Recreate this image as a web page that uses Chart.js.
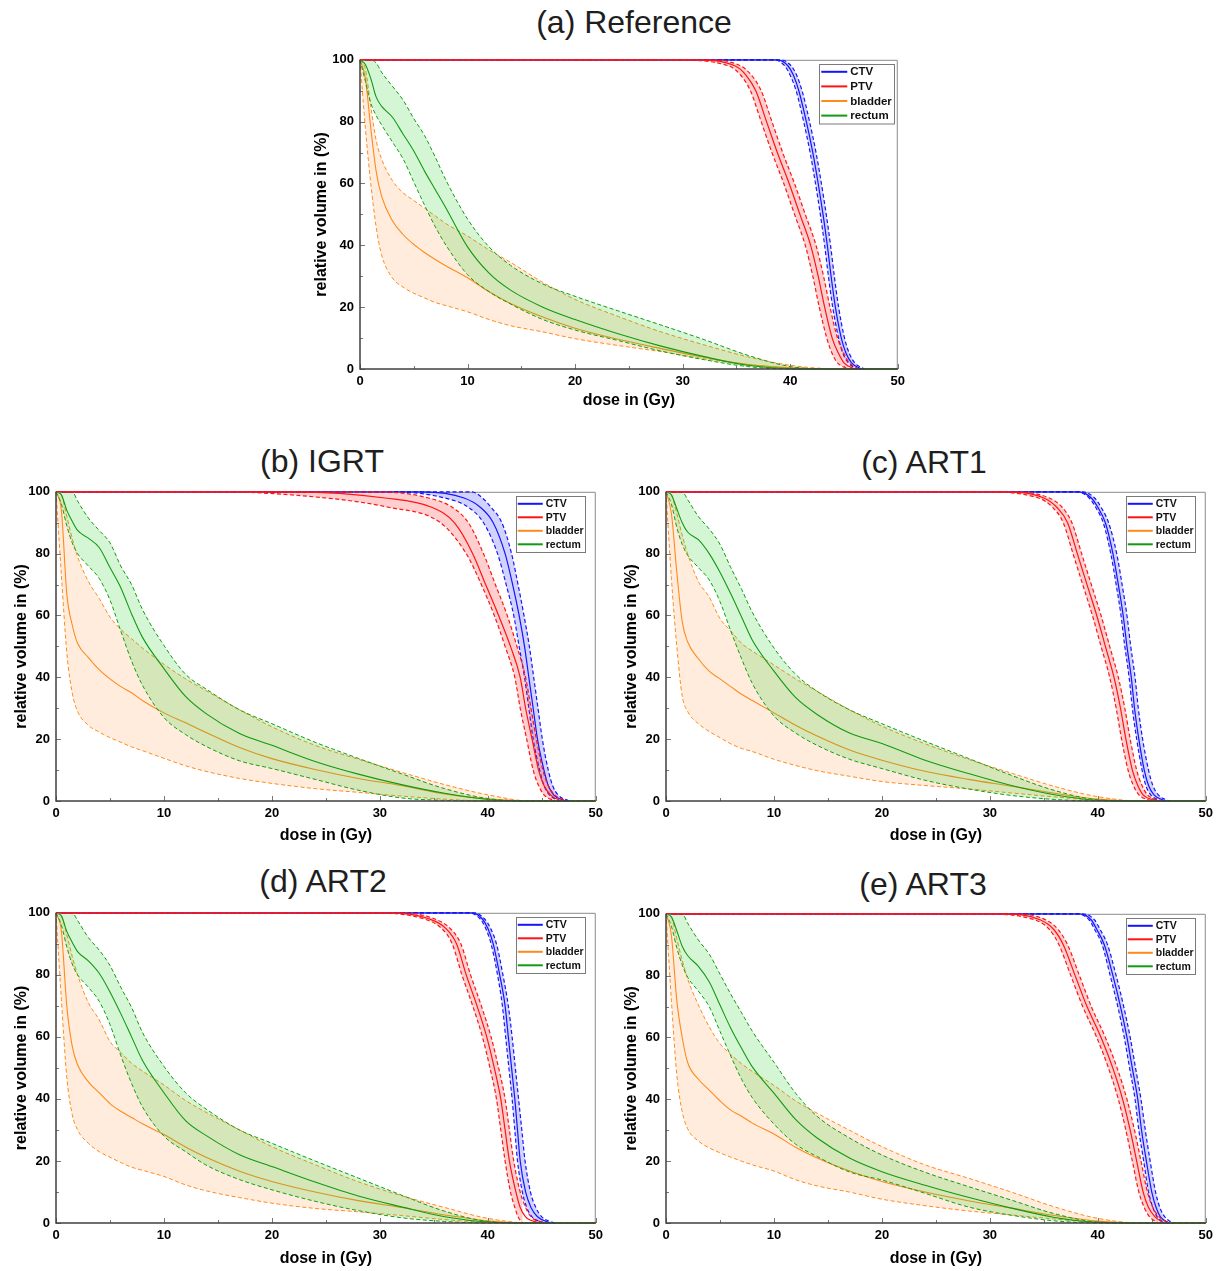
<!DOCTYPE html>
<html>
<head>
<meta charset="utf-8">
<title>DVH comparison</title>
<script src="https://cdn.jsdelivr.net/npm/chart.js@4.4.1/dist/chart.umd.min.js"></script>
<style>
  body { margin: 0; background: #fff; }
  #page { position: relative; width: 1216px; height: 1271px; overflow: hidden; background: #fff; }
  .ttl { position: absolute; width: 400px; text-align: center; font: 32px "Liberation Sans", Arial, sans-serif; line-height: 32px; color: #1e1e1e; white-space: nowrap; }
  canvas { position: absolute; }
</style>
</head>
<body>
<div id="page"></div>
<script>
// shared grids
const oarDose = [0, 0.5, 1, 1.5, 2, 3, 4, 5, 6, 7, 8, 10, 12, 14, 17, 20, 24, 28, 32, 36, 40, 44, 50];
const targetVol = [100, 100, 98, 95, 90, 80, 70, 60, 50, 40, 30, 20, 10, 5, 2, 0];
const doseTicks = [0, 10, 20, 30, 40, 50];
const volumeTicks = [0, 20, 40, 60, 80, 100];
const legendLabels = ['CTV', 'PTV', 'bladder', 'rectum'];
const panelTitles = ['(a) Reference', '(b) IGRT', '(c) ART1', '(d) ART2', '(e) ART3'];

// (a) Reference - targets: dose (Gy) at each targetVol level
const refCtvLow  = [0, 38.5, 39.5, 40.0, 40.55, 41.25, 41.85, 42.35, 42.8, 43.2, 43.55, 43.95, 44.5, 44.9, 45.4, 46.2];
const refCtvMean = [0, 38.8, 39.8, 40.3, 40.8, 41.5, 42.1, 42.6, 43.05, 43.45, 43.8, 44.2, 44.75, 45.2, 45.7, 46.6];
const refCtvHigh = [0, 39.1, 40.1, 40.6, 41.1, 41.8, 42.4, 42.9, 43.35, 43.75, 44.1, 44.5, 45.05, 45.5, 46.0, 46.9];
const refPtvLow  = [0, 29, 34.3, 35.4, 36.3, 37.3, 38.3, 39.4, 40.4, 41.4, 42.1, 42.7, 43.4, 43.9, 44.4, 45.4];
const refPtvMean = [0, 31, 34.9, 35.9, 36.8, 37.8, 38.8, 39.9, 40.9, 41.9, 42.6, 43.2, 43.9, 44.5, 45.0, 46.0];
const refPtvHigh = [0, 32, 35.4, 36.4, 37.3, 38.3, 39.3, 40.4, 41.4, 42.4, 43.1, 43.7, 44.4, 45.0, 45.5, 46.4];
// (a) Reference - organs at risk: volume (%) at each oarDose
const refBladderLow  = [100, 78, 60, 46, 37, 29.5, 26.5, 24.5, 23, 21.5, 20.5, 18.5, 16, 14, 12, 9.8, 7.6, 5.6, 3.3, 1.4, 0.4, 0, 0];
const refBladderMean = [100, 94, 78, 64, 56, 48, 43.5, 40.3, 37.7, 35.4, 33.3, 29.5, 25, 21.2, 16.8, 13.2, 9.6, 6.6, 3.8, 1.5, 0.4, 0, 0];
const refBladderHigh = [100, 97, 85, 74, 68, 61, 57, 54.5, 52, 49.5, 47, 43, 38.5, 34.5, 28, 22.5, 17, 12, 7.8, 4, 1.2, 0.1, 0];
const refRectumLow  = [100, 93, 86, 82, 79, 73.5, 68, 60.5, 53, 46, 40, 30.5, 25, 21, 16, 12.6, 9.2, 5.8, 3, 0.8, 0, 0, 0];
const refRectumMean = [100, 98.5, 94, 88, 85, 81.5, 76, 70.5, 64, 58, 52, 39.5, 31, 25.5, 20, 16, 11.4, 7.4, 4, 1.2, 0.1, 0, 0];
const refRectumHigh = [100, 100, 100, 99, 96, 91.5, 87, 81, 75.5, 68.5, 61, 48.5, 39.5, 33.5, 27.5, 23.5, 18.8, 14.2, 9.5, 4.5, 0.8, 0, 0];

// (b) IGRT
const igrtCtvLow  = [0, 31, 36.0, 38.2, 39.6, 40.9, 41.7, 42.4, 42.9, 43.4, 43.8, 44.2, 44.8, 45.2, 45.7, 46.6];
const igrtCtvMean = [0, 34, 37.8, 39.3, 40.5, 41.6, 42.3, 42.9, 43.4, 43.8, 44.2, 44.6, 45.2, 45.6, 46.1, 47.2];
const igrtCtvHigh = [0, 38.5, 39.5, 40.3, 41.3, 42.2, 42.8, 43.35, 43.85, 44.25, 44.65, 45.05, 45.6, 46.0, 46.5, 47.5];
const igrtPtvLow  = [0, 15, 25, 30.8, 35.6, 38.0, 39.4, 40.6, 41.6, 42.5, 43.0, 43.6, 44.2, 44.7, 45.2, 46.2];
const igrtPtvMean = [0, 22, 30.5, 34.8, 36.9, 38.6, 39.8, 41.0, 42.1, 43.0, 43.5, 44.1, 44.7, 45.2, 45.8, 46.8];
const igrtPtvHigh = [0, 30, 34.5, 36.7, 38.2, 39.6, 40.7, 41.8, 42.7, 43.5, 44.0, 44.5, 45.1, 45.6, 46.2, 47.3];
const igrtBladderLow  = [100, 73, 48, 35, 29, 24.5, 22.3, 20.5, 19, 17.5, 16.3, 13.8, 11.4, 9.5, 7.3, 5.7, 4, 2.8, 1.6, 0.6, 0, 0, 0];
const igrtBladderMean = [100, 94, 67, 57, 51, 46.4, 42.5, 39.5, 37, 35, 32.5, 28.5, 25.3, 22, 17.3, 13.7, 10.2, 7.3, 5, 2.3, 0.7, 0, 0];
const igrtBladderHigh = [100, 99, 92, 85, 79, 71, 65.5, 59.5, 55.5, 52.5, 49.5, 44.2, 39.5, 35.5, 29.5, 24, 18, 13.5, 9.3, 5.3, 2, 0, 0];
const igrtRectumLow  = [100, 96, 89, 83.5, 80, 76, 72, 65, 55, 45.3, 37.5, 27, 21.5, 17.5, 13, 10.5, 7, 3.5, 1, 0.2, 0, 0, 0];
const igrtRectumMean = [100, 99, 94, 90.5, 87.5, 85, 82, 75.5, 69, 60.5, 53, 42.8, 33.8, 28, 21.8, 18, 12.8, 8.7, 5.3, 2.5, 0.5, 0, 0];
const igrtRectumHigh = [100, 100, 100, 100, 97, 91.5, 87.5, 83.5, 76, 70, 62, 50.3, 41, 36, 29.5, 25, 19, 13.8, 8.8, 4, 0.8, 0, 0];

// (c) ART1
const art1CtvLow  = [0, 38.0, 39.2, 39.8, 40.5, 41.2, 41.7, 42.15, 42.5, 42.9, 43.2, 43.6, 44.1, 44.45, 44.9, 45.9];
const art1CtvMean = [0, 38.3, 39.4, 40.0, 40.7, 41.4, 41.9, 42.35, 42.7, 43.1, 43.4, 43.8, 44.3, 44.7, 45.2, 46.3];
const art1CtvHigh = [0, 38.6, 39.7, 40.3, 41.0, 41.75, 42.25, 42.7, 43.05, 43.45, 43.75, 44.15, 44.7, 45.1, 45.6, 46.6];
const art1PtvLow  = [0, 29, 34.5, 35.8, 36.8, 37.7, 38.6, 39.5, 40.3, 41.1, 41.7, 42.2, 42.8, 43.3, 43.8, 45.0];
const art1PtvMean = [0, 31, 35.0, 36.2, 37.2, 38.1, 39.0, 39.9, 40.7, 41.5, 42.1, 42.6, 43.2, 43.7, 44.2, 45.6];
const art1PtvHigh = [0, 32, 35.5, 36.7, 37.6, 38.5, 39.4, 40.3, 41.1, 41.9, 42.5, 43.0, 43.6, 44.1, 44.6, 46.0];
const art1BladderLow  = [100, 72, 50, 34, 29, 25, 22.5, 20.5, 18.5, 17, 16, 13.5, 11.5, 9.8, 8, 6.3, 5, 3.9, 2.6, 1.3, 0.2, 0, 0];
const art1BladderMean = [100, 93, 74, 58, 51.5, 46, 42, 39.5, 37, 34.5, 32.5, 28.5, 24.5, 21, 16.5, 13.2, 9.6, 7, 4.8, 2.5, 0.6, 0, 0];
const art1BladderHigh = [100, 99, 93, 86, 80, 71, 66, 59, 55, 51, 48.5, 44, 39.5, 35.5, 29.5, 24.2, 18.5, 13.5, 9, 4.7, 1.4, 0, 0];
const art1RectumLow  = [100, 96, 88.5, 83, 79.5, 75.5, 71.5, 64.5, 55, 46, 38, 27.5, 22, 18, 13.5, 10.5, 6.7, 3.9, 1.8, 0.5, 0, 0, 0];
const art1RectumMean = [100, 99, 94.5, 90, 87, 84.5, 80, 74, 67, 59.5, 52, 42, 33.5, 28, 22, 18.6, 13.2, 8.9, 5, 2, 0.2, 0, 0];
const art1RectumHigh = [100, 100, 100, 100, 97.5, 92, 88, 83, 75.5, 68.5, 61, 49.5, 41, 35.5, 29.5, 25, 19.3, 13.8, 8.3, 3.4, 0.4, 0, 0];

// (d) ART2
const art2CtvLow  = [0, 38.2, 39.3, 39.8, 40.3, 40.9, 41.35, 41.65, 41.95, 42.25, 42.5, 42.75, 43.2, 43.6, 44.1, 45.2];
const art2CtvMean = [0, 38.5, 39.5, 40.0, 40.5, 41.1, 41.6, 41.9, 42.2, 42.5, 42.75, 43.0, 43.5, 44.0, 44.6, 45.8];
const art2CtvHigh = [0, 38.8, 39.7, 40.25, 40.8, 41.4, 41.9, 42.25, 42.55, 42.85, 43.15, 43.45, 43.95, 44.45, 45.0, 46.2];
const art2PtvLow  = [0, 29, 34.1, 35.7, 36.7, 37.6, 38.6, 39.5, 40.2, 40.8, 41.2, 41.6, 42.1, 42.5, 42.8, 43.2];
const art2PtvMean = [0, 31, 34.6, 36.1, 37.1, 38.0, 39.0, 39.9, 40.6, 41.2, 41.6, 42.0, 42.6, 43.0, 43.5, 44.8];
const art2PtvHigh = [0, 32, 35.1, 36.5, 37.5, 38.4, 39.4, 40.3, 41.0, 41.6, 42.0, 42.4, 43.0, 43.5, 44.0, 45.3];
const art2BladderLow  = [100, 72, 47, 35, 30, 25.7, 23, 21.2, 19.5, 18, 17, 15, 12.3, 10.3, 8.2, 6.4, 4.7, 3.6, 2.4, 1.1, 0.2, 0, 0];
const art2BladderMean = [100, 94, 70, 57, 51, 45.5, 42, 38.5, 36, 34, 32, 28.5, 24.5, 21, 16.7, 13.4, 10, 7.2, 5, 2.6, 0.7, 0, 0];
const art2BladderHigh = [100, 99, 93, 86, 80, 71, 65.5, 58.5, 55, 51.5, 49, 44.5, 39.5, 35.5, 30, 24.6, 18.8, 13.3, 8.8, 5, 1.5, 0, 0];
const art2RectumLow  = [100, 96, 89, 83.5, 80, 76, 71.5, 64, 54, 45, 37.5, 28, 23, 18.5, 14, 10.7, 7, 4, 1.7, 0.5, 0, 0, 0];
const art2RectumMean = [100, 99, 94, 90.5, 87.5, 84.5, 80.5, 74.5, 67.5, 60, 52.5, 42, 33, 28, 22, 18.2, 13.2, 8.7, 5.2, 2, 0.3, 0, 0];
const art2RectumHigh = [100, 100, 100, 100, 97.5, 92, 88, 83, 76, 69.5, 61.5, 50.5, 42, 36.5, 30, 25.7, 20, 14.5, 9, 3.8, 0.5, 0, 0];

// (e) ART3
const art3CtvLow  = [0, 38.0, 39.2, 39.7, 40.4, 41.15, 41.85, 42.45, 42.95, 43.45, 43.8, 44.25, 44.7, 45.1, 45.5, 46.2];
const art3CtvMean = [0, 38.3, 39.4, 39.9, 40.6, 41.4, 42.1, 42.7, 43.2, 43.7, 44.05, 44.5, 45.0, 45.4, 45.8, 46.6];
const art3CtvHigh = [0, 38.6, 39.7, 40.2, 40.9, 41.7, 42.4, 43.0, 43.5, 44.0, 44.4, 44.85, 45.35, 45.75, 46.2, 46.9];
const art3PtvLow  = [0, 29, 34.2, 35.5, 36.4, 37.5, 38.6, 39.9, 41.0, 41.9, 42.6, 43.2, 43.8, 44.3, 44.8, 45.6];
const art3PtvMean = [0, 31, 34.7, 35.9, 36.8, 37.9, 39.0, 40.3, 41.4, 42.3, 43.0, 43.6, 44.2, 44.7, 45.3, 46.1];
const art3PtvHigh = [0, 32, 35.2, 36.3, 37.2, 38.3, 39.4, 40.7, 41.8, 42.7, 43.4, 44.0, 44.6, 45.1, 45.7, 46.5];
const art3BladderLow  = [100, 72, 48, 36, 30.5, 26.5, 24.3, 22.7, 21.3, 20, 18.8, 16.8, 14, 12, 10, 7.7, 5.6, 3.9, 2.6, 1.3, 0.2, 0, 0];
const art3BladderMean = [100, 93, 72, 60, 52, 46.5, 43, 39.5, 36.5, 34.5, 32.3, 28.8, 24.5, 21, 16.8, 13.4, 10, 7.2, 4.8, 2.4, 0.6, 0, 0];
const art3BladderHigh = [100, 99, 92, 85, 79, 70.5, 63.5, 58, 54.5, 51.5, 49, 44.5, 39.5, 35.5, 30, 24.7, 18.8, 14.5, 10, 5.2, 1.5, 0, 0];
const art3RectumLow  = [100, 96, 89, 83.5, 79.5, 75, 70, 62, 54, 46.5, 40.5, 32, 25.5, 21.5, 16.5, 13.9, 9.6, 5.2, 2.5, 0.7, 0, 0, 0];
const art3RectumMean = [100, 99, 94.5, 89.5, 86.5, 83, 78, 70.5, 63, 56.5, 50.5, 42, 33.5, 27.5, 21, 16.6, 12.2, 8.3, 4.8, 1.8, 0.2, 0, 0];
const art3RectumHigh = [100, 100, 100, 100, 97, 91.5, 87, 80.5, 74, 68, 62, 52, 42, 34.5, 27.5, 22, 16.4, 11.8, 7.4, 3, 0.3, 0, 0];

const panelData = [
  { ctv: [refCtvLow, refCtvMean, refCtvHigh], ptv: [refPtvLow, refPtvMean, refPtvHigh],
    bladder: [refBladderLow, refBladderMean, refBladderHigh], rectum: [refRectumLow, refRectumMean, refRectumHigh] },
  { ctv: [igrtCtvLow, igrtCtvMean, igrtCtvHigh], ptv: [igrtPtvLow, igrtPtvMean, igrtPtvHigh],
    bladder: [igrtBladderLow, igrtBladderMean, igrtBladderHigh], rectum: [igrtRectumLow, igrtRectumMean, igrtRectumHigh] },
  { ctv: [art1CtvLow, art1CtvMean, art1CtvHigh], ptv: [art1PtvLow, art1PtvMean, art1PtvHigh],
    bladder: [art1BladderLow, art1BladderMean, art1BladderHigh], rectum: [art1RectumLow, art1RectumMean, art1RectumHigh] },
  { ctv: [art2CtvLow, art2CtvMean, art2CtvHigh], ptv: [art2PtvLow, art2PtvMean, art2PtvHigh],
    bladder: [art2BladderLow, art2BladderMean, art2BladderHigh], rectum: [art2RectumLow, art2RectumMean, art2RectumHigh] },
  { ctv: [art3CtvLow, art3CtvMean, art3CtvHigh], ptv: [art3PtvLow, art3PtvMean, art3PtvHigh],
    bladder: [art3BladderLow, art3BladderMean, art3BladderHigh], rectum: [art3RectumLow, art3RectumMean, art3RectumHigh] }
];

// page layout: plot rectangles, title centres, legend boxes
const bigLegend = { w: 75, h: 59.5, gapR: 3.5, gapT: 4.5, line: 26, first: 7.5, row: 14.6, font: 11.5 };
const smallLegend = { w: 69, h: 56, gapR: 11, gapT: 4, line: 25, first: 8, row: 13.5, font: 10.5 };
const boxes = [
  { L: 360, T: 58,  R: 898,  B: 369,  tx: 634, ty: 25,  yGap: 38,   xGap: 32, lg: bigLegend },
  { L: 56,  T: 490, R: 596,  B: 801,  tx: 322, ty: 464, yGap: 34.5, xGap: 35, lg: smallLegend },
  { L: 666, T: 490, R: 1206, B: 801,  tx: 924, ty: 465, yGap: 34.5, xGap: 35, lg: smallLegend },
  { L: 56,  T: 911, R: 596,  B: 1223, tx: 323, ty: 884, yGap: 34.5, xGap: 36, lg: smallLegend },
  { L: 666, T: 912, R: 1206, B: 1223, tx: 923, ty: 887, yGap: 34.5, xGap: 36, lg: smallLegend }
];

const FONT = '"Liberation Sans", Arial, Helvetica, sans-serif';
const colors = { ctv: '#1414ff', ptv: '#ff1414', bladder: '#ff8a1c', rectum: '#129a12' };
const fills = {
  ctv: 'rgba(50, 50, 255, 0.22)',
  ptv: 'rgba(255, 30, 30, 0.22)',
  bladder: 'rgba(255, 150, 60, 0.18)',
  rectum: 'rgba(20, 205, 20, 0.18)'
};

const Y_AXIS_W = 56, X_AXIS_H = 52, PAD_T = 12, PAD_R = 12;
const TITLE_SIZE = 16, TICK_SIZE = 13;

// light top/right border, drawn under the curves
const borderPlugin = {
  id: 'borderUnder',
  beforeDatasetsDraw(chart) {
    const { ctx, chartArea: a } = chart;
    ctx.save();
    ctx.strokeStyle = '#8a8a8a';
    ctx.lineWidth = 1;
    ctx.beginPath();
    ctx.moveTo(a.left, a.top + 0.5);
    ctx.lineTo(a.right - 0.5, a.top + 0.5);
    ctx.lineTo(a.right - 0.5, a.bottom);
    ctx.stroke();
    ctx.restore();
  }
};

// dark left/bottom axes with inward major / minor ticks
const framePlugin = {
  id: 'frame',
  afterDatasetsDraw(chart) {
    const { ctx, chartArea: a, scales: { x, y } } = chart;
    ctx.save();
    ctx.strokeStyle = '#777';
    ctx.lineWidth = 1;
    ctx.beginPath();
    const xt = x.ticks.map(t => t.value);
    xt.forEach((v, i) => {
      const px = Math.round(x.getPixelForValue(v)) + 0.5;
      ctx.moveTo(px, a.bottom); ctx.lineTo(px, a.bottom - 5);
      if (i < xt.length - 1) {
        const m = Math.round(x.getPixelForValue((v + xt[i + 1]) / 2)) + 0.5;
        ctx.moveTo(m, a.bottom); ctx.lineTo(m, a.bottom - 3);
      }
    });
    const yt = y.ticks.map(t => t.value);
    yt.forEach((v, i) => {
      const py = Math.round(y.getPixelForValue(v)) + 0.5;
      ctx.moveTo(a.left, py); ctx.lineTo(a.left + 5, py);
      if (i < yt.length - 1) {
        const m = Math.round(y.getPixelForValue((v + yt[i + 1]) / 2)) + 0.5;
        ctx.moveTo(a.left, m); ctx.lineTo(a.left + 3, m);
      }
    });
    ctx.stroke();

    ctx.strokeStyle = '#404040';
    ctx.lineWidth = 1.5;
    ctx.beginPath();
    ctx.moveTo(a.left, a.top);
    ctx.lineTo(a.left, a.bottom);
    ctx.lineTo(a.right, a.bottom);
    ctx.stroke();
    ctx.restore();
  }
};

// boxed legend in the top right corner of the plot
const legendPlugin = {
  id: 'dvhLegend',
  afterDraw(chart, args, opts) {
    const { ctx, chartArea: a } = chart;
    const lg = opts.box;
    const left = a.right - lg.gapR - lg.w;
    const top = a.top + lg.gapT;
    ctx.save();
    ctx.fillStyle = '#fff';
    ctx.fillRect(left, top, lg.w, lg.h);
    ctx.strokeStyle = '#7a7a7a';
    ctx.lineWidth = 1;
    ctx.strokeRect(Math.round(left) + 0.5, Math.round(top) + 0.5, lg.w, lg.h);
    ctx.font = 'bold ' + lg.font + 'px ' + FONT;
    ctx.textBaseline = 'middle';
    ctx.fillStyle = '#111';
    opts.items.forEach((it, i) => {
      const cy = top + lg.first + i * lg.row;
      ctx.strokeStyle = it.color;
      ctx.lineWidth = 2;
      ctx.beginPath();
      ctx.moveTo(left + 2, cy);
      ctx.lineTo(left + 2 + lg.line, cy);
      ctx.stroke();
      ctx.fillText(it.label, left + 2 + lg.line + 3, cy + 0.5);
    });
    ctx.restore();
  }
};

const pts = (xs, ys) => xs.map((x, i) => ({ x, y: ys[i] }));

function addBand(list, triple, color, fillColor, meanW, dashW, isTarget) {
  const [low, mean, high] = isTarget
    ? triple.map(d => pts(d, targetVol))
    : triple.map(v => pts(oarDose, v));
  const i = list.length;
  list.push({ data: mean, borderColor: color, borderWidth: meanW, fill: false, clip: 2 });
  list.push({ data: high, borderColor: color, borderWidth: dashW, borderDash: [4, 2.5], fill: i + 2, backgroundColor: fillColor, clip: 2 });
  list.push({ data: low, borderColor: color, borderWidth: dashW, borderDash: [4, 2.5], fill: false, clip: 2 });
}

const page = document.getElementById('page');

panelData.forEach((d, k) => {
  const b = boxes[k];

  const t = document.createElement('div');
  t.className = 'ttl';
  t.textContent = panelTitles[k];
  t.style.left = (b.tx - 200) + 'px';
  t.style.top = (b.ty - 19) + 'px';
  page.appendChild(t);

  const cv = document.createElement('canvas');
  const w = b.R - b.L + Y_AXIS_W + PAD_R;
  const h = b.B - b.T + PAD_T + X_AXIS_H;
  cv.width = w; cv.height = h;
  cv.style.left = (b.L - Y_AXIS_W) + 'px';
  cv.style.top = (b.T - PAD_T) + 'px';
  cv.style.width = w + 'px'; cv.style.height = h + 'px';
  page.appendChild(cv);

  // first dataset is painted last, so order = PTV, CTV, rectum, bladder
  const datasets = [];
  addBand(datasets, d.ptv, colors.ptv, fills.ptv, 1.2, 1.2, true);
  addBand(datasets, d.ctv, colors.ctv, fills.ctv, 1.2, 1.2, true);
  addBand(datasets, d.rectum, colors.rectum, fills.rectum, 1.1, 1, false);
  addBand(datasets, d.bladder, colors.bladder, fills.bladder, 1.1, 1, false);

  const tickFont = { family: FONT, size: TICK_SIZE, weight: 'bold' };
  const titleFont = { family: FONT, size: TITLE_SIZE, weight: 'bold', lineHeight: 1.2 };
  const halfLine = TITLE_SIZE * 1.2 / 2;

  new Chart(cv, {
    type: 'line',
    data: { datasets },
    plugins: [borderPlugin, framePlugin, legendPlugin],
    options: {
      responsive: false,
      animation: false,
      devicePixelRatio: 1,
      layout: { padding: { top: PAD_T, right: PAD_R, left: 0, bottom: 0 } },
      elements: {
        point: { radius: 0, hoverRadius: 0 },
        line: { cubicInterpolationMode: 'monotone' }
      },
      plugins: {
        legend: { display: false },
        tooltip: { enabled: false },
        dvhLegend: {
          box: b.lg,
          items: legendLabels.map((label, i) => ({ label, color: [colors.ctv, colors.ptv, colors.bladder, colors.rectum][i] }))
        }
      },
      scales: {
        x: {
          type: 'linear', min: 0, max: 50,
          afterBuildTicks: s => { s.ticks = doseTicks.map(v => ({ value: v })); },
          afterFit: s => { s.height = X_AXIS_H; },
          ticks: { color: '#000', font: tickFont, padding: 5, maxRotation: 0, autoSkip: false },
          grid: { display: false, drawTicks: false },
          border: { display: false },
          title: { display: true, text: 'dose in (Gy)', color: '#000', font: titleFont,
                   padding: { top: 0, bottom: X_AXIS_H - b.xGap - halfLine } }
        },
        y: {
          type: 'linear', min: 0, max: 100,
          afterBuildTicks: s => { s.ticks = volumeTicks.map(v => ({ value: v })); },
          afterFit: s => { s.width = Y_AXIS_W; },
          ticks: { color: '#000', font: tickFont, padding: 6, autoSkip: false },
          grid: { display: false, drawTicks: false },
          border: { display: false },
          title: { display: true, text: 'relative volume in (%)', color: '#000', font: titleFont,
                   padding: { top: Y_AXIS_W - b.yGap - halfLine, bottom: 0 } }
        }
      }
    }
  });
});
</script>
</body>
</html>
